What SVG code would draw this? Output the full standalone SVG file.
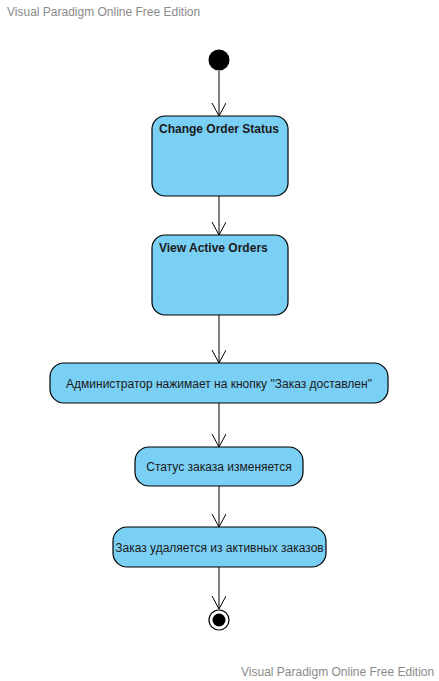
<svg xmlns="http://www.w3.org/2000/svg" width="439" height="681" viewBox="0 0 439 681">
<defs>
<style>
.wm{font-family:"Liberation Sans",Arial,sans-serif;font-size:12px;fill:#8a8a8a}
.act{fill:#7acff5;stroke:#000;stroke-width:1.2}
.t{font-family:"Liberation Sans",Arial,sans-serif;font-size:12px;fill:#1a1a1a}
.b{font-weight:bold}
.c{stroke:#000;stroke-width:1;fill:none}
</style>
<marker id="arr" markerWidth="14" markerHeight="16" refX="13" refY="7" orient="auto" markerUnits="userSpaceOnUse">
<path d="M0,0 L13,7 L0,14" fill="none" stroke="#000" stroke-width="1"/>
</marker>
</defs>
<rect width="439" height="681" fill="#fff"/>
<text class="wm" x="7" y="16">Visual Paradigm Online Free Edition</text>
<text class="wm" x="241" y="676">Visual Paradigm Online Free Edition</text>
<g id="connectors">
<line class="c" x1="219" y1="71" x2="219" y2="116" marker-end="url(#arr)"/>
<line class="c" x1="219" y1="196" x2="219" y2="235" marker-end="url(#arr)"/>
<line class="c" x1="219" y1="315" x2="219" y2="363" marker-end="url(#arr)"/>
<line class="c" x1="219" y1="403" x2="219" y2="447" marker-end="url(#arr)"/>
<line class="c" x1="219" y1="486" x2="219" y2="527" marker-end="url(#arr)"/>
<line class="c" x1="219" y1="567" x2="219" y2="609" marker-end="url(#arr)"/>
</g>
<g id="initial"><circle cx="219" cy="60" r="10.5" fill="#000"/></g>
<g id="changeOrderStatus">
<rect class="act" x="152" y="116" width="136" height="80" rx="13"/>
<text class="t b" x="159" y="133">Change Order Status</text>
</g>
<g id="viewActiveOrders">
<rect class="act" x="152" y="235" width="136" height="80" rx="13"/>
<text class="t b" x="159" y="252">View Active Orders</text>
</g>
<g id="adminClicks">
<rect class="act" x="50" y="363" width="338" height="40" rx="14"/>
<text class="t" x="219" y="388" text-anchor="middle">Администратор нажимает на кнопку "Заказ доставлен"</text>
</g>
<g id="statusChanges">
<rect class="act" x="135" y="447" width="168" height="39" rx="14"/>
<text class="t" x="219" y="471" text-anchor="middle">Статус заказа изменяется</text>
</g>
<g id="orderRemoved">
<rect class="act" x="113" y="527" width="213" height="40" rx="14"/>
<text class="t" x="219.5" y="552" text-anchor="middle">Заказ удаляется из активных заказов</text>
</g>
<g id="final">
<circle cx="219" cy="620" r="10" fill="#fff" stroke="#000" stroke-width="1.2"/>
<circle cx="219" cy="620" r="6.5" fill="#000"/>
</g>
</svg>
